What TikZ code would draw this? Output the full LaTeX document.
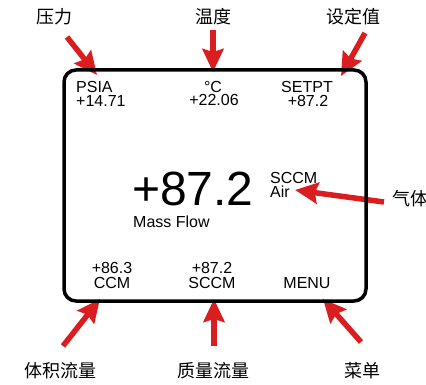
\documentclass[tikz,border=0pt]{standalone}
\usepackage{fontspec}
\setmainfont{Liberation Sans}
\newfontfamily\cjk{Noto Sans CJK SC}
\usetikzlibrary{arrows.meta}
\definecolor{arrowred}{RGB}{218,30,32}
\begin{document}
\begin{tikzpicture}[x=1pt,y=-1pt,
  lcd/.style={font=\fontsize{16}{16}\selectfont, inner sep=0pt, anchor=base},
  lcdl/.style={lcd, anchor=base west},
  big/.style={font=\fontsize{48}{48}\selectfont, inner sep=0pt, anchor=base west},
  zh/.style={font=\cjk\fontsize{18}{18}\selectfont, inner sep=0pt, anchor=base},
  callout/.style={draw=arrowred, line width=5.5pt, -{Stealth[length=23pt,width=21pt,inset=3pt]}},
  frame/.style={draw=black, line width=3.5pt, rounded corners=12pt}]
\useasboundingbox (0,0) rectangle (426,385);
% callout tails and tips
\coordinate (t1) at (67,37);   \coordinate (h1) at (97,75);
\coordinate (t2) at (213,30);  \coordinate (h2) at (213,72);
\coordinate (t3) at (365,33);  \coordinate (h3) at (341,76);
\coordinate (t4) at (384,202); \coordinate (h4) at (295,190);
\coordinate (t5) at (63,346);  \coordinate (h5) at (100,299);
\coordinate (t6) at (214,346); \coordinate (h6) at (214,299);
\coordinate (t7) at (361,342); \coordinate (h7) at (323,299);
\foreach \i in {1,...,7} { \draw[callout] (t\i) -- (h\i); }
% display frame
\draw[frame] (64,70) rectangle (366,301);
% top row
\node[lcdl] (psia) at (76,93) {PSIA};
\node[lcdl] (psiav) at (76,107) {+14.71};
\node[lcd] (degc) at (213,93) {°C};
\node[lcd] (degcv) at (214,106) {+22.06};
\node[lcd] (setpt) at (307,93) {SETPT};
\node[lcd] (setptv) at (308,107) {+87.2};
% main reading
\node[big] (main) at (132,205) {+87.2};
\node[lcdl] (unit) at (270,183) {SCCM};
\node[lcdl] (gas) at (270,197) {Air};
\node[lcdl] (mflow) at (133,227) {Mass Flow};
% bottom row
\node[lcd] (ccmv) at (112,273) {+86.3};
\node[lcd] (ccm) at (112,288) {CCM};
\node[lcd] (sccmv) at (212,273) {+87.2};
\node[lcd] (sccm) at (212,288) {SCCM};
\node[lcd] (menu) at (307,288) {MENU};
% Chinese labels
\node[zh] (lp) at (54,24) {压力};
\node[zh] (lt) at (213,24) {温度};
\node[zh] (ls) at (353,24) {设定值};
\node[zh, anchor=base west] (lg) at (392,206) {气体};
\node[zh] (lv) at (60,377) {体积流量};
\node[zh] (lm) at (213,377) {质量流量};
\node[zh] (lmenu) at (362,377) {菜单};
\end{tikzpicture}
\end{document}
